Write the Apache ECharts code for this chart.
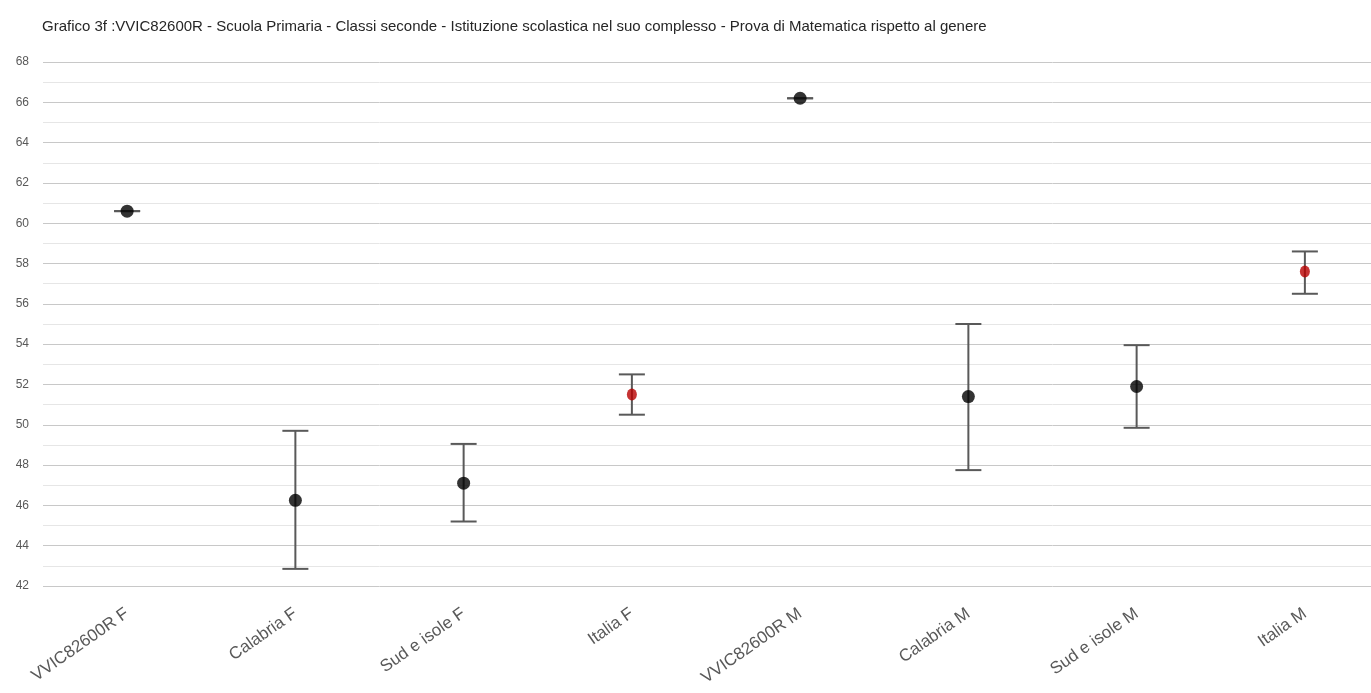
<!DOCTYPE html>
<html>
<head>
<meta charset="utf-8">
<script src="https://cdn.jsdelivr.net/npm/echarts@6/dist/echarts.min.js"></script>
<style>
    html, body {margin: 0; padding: 0; background: #fff; overflow: hidden;}
    /* il grafico originale esce un po' oltre il bordo destro */
    #chart {width: 1389px; height: 693px;}
</style>
</head>
<body>
<div id="chart"></div>
<script>
// categorie e valori
var categories = ['VVIC82600R F', 'Calabria F', 'Sud e isole F', 'Italia F',
    'VVIC82600R M', 'Calabria M', 'Sud e isole M', 'Italia M'];
var means = [60.6, 46.25, 47.1, 51.5, 66.2, 51.4, 51.9, 57.6];
var lows = [60.6, 42.85, 45.2, 50.5, 66.2, 47.75, 49.85, 56.5];
var highs = [60.6, 49.7, 49.05, 52.5, 66.2, 55.0, 53.95, 58.6];
var yTicks = {min: 42, max: 68, step: 2};

var titleText = 'Grafico 3f :VVIC82600R - Scuola Primaria - Classi seconde - Istituzione scolastica nel suo complesso - Prova di Matematica rispetto al genere';

var barData = [];
var pointData = [];
for (var i = 0; i < categories.length; i++) {
    barData.push([i, lows[i], highs[i]]);
    var isItalia = categories[i].indexOf('Italia') === 0;
    pointData.push({
        value: [i, means[i]],
        symbolSize: isItalia ? [10, 12] : [13, 13],
        itemStyle: {color: isItalia ? '#b80000' : '#000000'}
    });
}

var myChart = echarts.init(document.getElementById('chart'));
var option = {
    animation: false,
    title: {
        text: titleText,
        left: 37,
        top: 14,
        textStyle: {
            color: '#262626',
            fontWeight: 'normal',
            fontSize: 15,
            fontFamily: 'Liberation Sans, Arial'
        }
    },
    grid: {left: 43, right: 0, top: 62, bottom: 107},
    xAxis: {
        type: 'category',
        data: categories,
        boundaryGap: true,
        axisLine: {show: false},
        axisTick: {show: false},
        axisLabel: {
            rotate: 35,
            margin: 26,
            fontSize: 17,
            color: '#595959',
            fontFamily: 'Liberation Sans, Arial'
        }
    },
    yAxis: {
        type: 'value',
        min: yTicks.min,
        max: yTicks.max,
        interval: yTicks.step,
        axisLine: {show: false},
        axisTick: {show: false},
        axisLabel: {
            margin: 14,
            fontSize: 12,
            color: '#595959',
            fontFamily: 'Liberation Sans, Arial'
        },
        splitLine: {lineStyle: {color: '#c8c8c8', width: 1}},
        minorTick: {show: false, splitNumber: 2},
        minorSplitLine: {show: true, lineStyle: {color: '#e6e6e6', width: 1}}
    },
    series: [
        {
            type: 'custom',
            name: 'intervallo',
            data: barData,
            z: 2,
            renderItem: function (params, api) {
                var x = api.value(0);
                var lo = api.coord([x, api.value(1)]);
                var hi = api.coord([x, api.value(2)]);
                var cap = 13;
                var style = {stroke: '#595959', lineWidth: 2};
                return {
                    type: 'group',
                    children: [
                        {type: 'line', shape: {x1: hi[0], y1: hi[1], x2: lo[0], y2: lo[1]}, style: style},
                        {type: 'line', shape: {x1: hi[0] - cap, y1: hi[1], x2: hi[0] + cap, y2: hi[1]}, style: style},
                        {type: 'line', shape: {x1: lo[0] - cap, y1: lo[1], x2: lo[0] + cap, y2: lo[1]}, style: style}
                    ]
                };
            }
        },
        {
            type: 'scatter',
            name: 'media',
            data: pointData,
            symbol: 'circle',
            z: 3
        }
    ]
};
myChart.setOption(option);
</script>
</body>
</html>
